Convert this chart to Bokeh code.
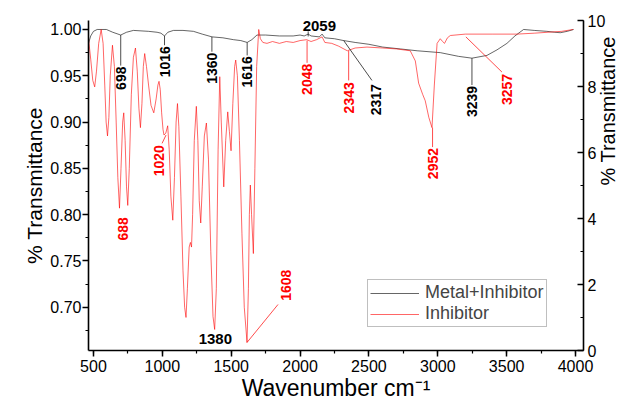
import math
from bokeh.plotting import figure
from bokeh.models import (Range1d, LinearAxis, SingleIntervalTicker, NumeralTickFormatter,
                          Legend, LegendItem, ColumnDataSource)
from bokeh.core.properties import value
from bokeh.embed import file_html
from bokeh.resources import INLINE

# ---------------- data ----------------
# Inhibitor spectrum (wavenumber, transmittance)
inh_wn = [464, 480, 495, 509, 522, 538, 556, 570, 582, 592, 602, 612, 622, 638, 652, 665, 677, 689,
          700, 712, 720, 730, 740, 749, 760, 775, 790, 805, 818, 830, 841, 852, 862, 872, 885, 900,
          918, 938, 955, 968, 976, 985, 995, 1005, 1012, 1025, 1039, 1050, 1062, 1076, 1088, 1100,
          1110, 1120, 1135, 1150, 1162, 1172, 1182, 1195, 1204, 1212, 1220, 1232, 1247, 1258, 1268,
          1279, 1290, 1305, 1320, 1335, 1352, 1368, 1380, 1392, 1405, 1417, 1428, 1446, 1460, 1475,
          1487, 1499, 1512, 1525, 1533, 1545, 1560, 1578, 1595, 1615, 1625, 1632, 1639, 1648, 1661,
          1672, 1685, 1700, 1712, 1730, 1760, 1800, 1850, 1900, 1950, 2000, 2048, 2080, 2120, 2160,
          2180, 2230, 2280, 2343, 2400, 2486, 2600, 2700, 2800, 2837, 2861, 2890, 2909, 2935, 2958,
          2975, 2995, 3018, 3035, 3049, 3070, 3091, 3200, 3400, 3575, 3700, 3800, 3900, 3983]
inh_t = [0.990, 0.968, 0.945, 0.938, 0.955, 0.985, 1.000, 0.985, 0.940, 0.900, 0.885, 0.905, 0.950,
         0.983, 0.960, 0.900, 0.840, 0.807, 0.850, 0.900, 0.910, 0.880, 0.830, 0.810, 0.850, 0.930,
         0.970, 0.980, 0.955, 0.915, 0.894, 0.920, 0.960, 0.974, 0.960, 0.940, 0.918, 0.910, 0.925,
         0.940, 0.944, 0.935, 0.910, 0.892, 0.886, 0.888, 0.896, 0.870, 0.820, 0.794, 0.840, 0.900,
         0.920, 0.895, 0.820, 0.740, 0.700, 0.689, 0.720, 0.765, 0.770, 0.765, 0.800, 0.880, 0.917,
         0.880, 0.815, 0.791, 0.830, 0.885, 0.899, 0.860, 0.760, 0.690, 0.676, 0.720, 0.870, 0.949,
         0.900, 0.830, 0.880, 0.911, 0.890, 0.869, 0.920, 0.960, 0.967, 0.950, 0.880, 0.780, 0.700,
         0.662, 0.720, 0.800, 0.832, 0.800, 0.758, 0.850, 0.960, 1.000, 0.990, 0.986, 0.985, 0.987,
         0.985, 0.987, 0.986, 0.988, 0.989, 0.987, 0.989, 0.992, 0.986, 0.985, 0.982, 0.977, 0.980,
         0.981, 0.980, 0.979, 0.977, 0.966, 0.942, 0.930, 0.923, 0.905, 0.894, 0.940, 0.985, 0.990,
         0.987, 0.985, 0.991, 0.9935, 0.995, 0.995, 0.995, 0.996, 0.997, 0.998, 1.000]

# Metal+Inhibitor spectrum
met_wn = [464, 480, 500, 527, 594, 640, 698, 740, 790, 900, 962, 990, 1016, 1040, 1081, 1150, 1226,
          1290, 1361, 1440, 1516, 1570, 1616, 1650, 1687, 1750, 1850, 1950, 2000, 2030, 2059, 2080,
          2140, 2160, 2180, 2250, 2317, 2400, 2500, 2600, 2728, 2850, 3018, 3150, 3248, 3357, 3430,
          3502, 3560, 3623, 3700, 3792, 3850, 3889, 3940, 3986]
met_t = [0.985, 0.993, 0.998, 1.000, 1.000, 0.997, 0.994, 0.997, 0.999, 0.998, 0.997, 0.996, 0.993,
         0.997, 0.999, 0.999, 0.998, 0.995, 0.992, 0.991, 0.989, 0.988, 0.986, 0.989, 0.994, 0.994,
         0.993, 0.993, 0.994, 0.993, 0.995, 0.993, 0.992, 0.995, 0.991, 0.990, 0.988, 0.986, 0.984,
         0.981, 0.979, 0.977, 0.975, 0.971, 0.969, 0.972, 0.978, 0.985, 0.993, 1.000, 0.999, 0.998,
         0.997, 0.9965, 0.998, 1.000]

# Peak annotations: rotated labels hanging below a leader line
ann_text = ["698", "1016", "1360", "1616", "3239", "2317", "2048", "2343", "2952", "3257", "1020"]
ann_color = ["black", "black", "black", "black", "black", "black", "red", "red", "red", "red", "red"]
ann_x0 = [698, 1016, 1360, 1616, 3248, 2317, 2051, 2353, 2962, 3204, 1027]
ann_y0 = [0.994, 0.993, 0.992, 0.986, 0.969, 0.988, 0.988, 0.977, 0.894, 0.992, 0.886]
ann_x1 = [698, 1016, 1360, 1616, 3248, 2522, 2051, 2353, 2962, 3466, 998]
ann_y1 = [0.961, 0.983, 0.976, 0.972, 0.940, 0.945, 0.964, 0.945, 0.873, 0.954, 0.877]
ann_lx = [698, 1016, 1360, 1616, 3248, 2555, 2051, 2353, 2962, 3502, 976]
ann_ly = [0.960, 0.982, 0.975, 0.971, 0.939, 0.941, 0.963, 0.943, 0.872, 0.952, 0.875]

# rotated labels sitting above their anchor (1608 with leader, 688 alone)
up_text = ["1608", "688"]
up_lx = [1901, 716]
up_ly = [0.707, 0.772]
lead1608_x = [1615, 1840]
lead1608_y = [0.662, 0.703]

# horizontal bold labels
hz_text = ["2059", "1380"]
hz_x = [2140, 1385]
hz_y = [1.0034, 0.666]
lead2059_x = [2059, 2059]
lead2059_y = [0.998, 0.9925]

series_names = ["Metal+Inhibitor", "Inhibitor"]
x_title = "Wavenumber cm\u207b\u00b9"
y_title = "% Transmittance"

FONT = "Liberation Sans"

p = figure(width=636, height=403, x_range=Range1d(464, 4058), y_range=Range1d(0.6533, 1.0097),
           output_backend="svg", toolbar_location=None,
           min_border_left=88, min_border_right=53, min_border_top=20, min_border_bottom=53)
p.extra_y_ranges = {"right": Range1d(0, 10)}
p.outline_line_color = None
p.grid.visible = False
p.background_fill_color = "white"
p.border_fill_color = "white"

r_met = p.line(met_wn, met_t, line_color="#000000", line_alpha=0.6, line_width=1)
r_inh = p.line(inh_wn, inh_t, line_color="#ff0000", line_alpha=0.6, line_width=1)

# leaders
for i in range(len(ann_text)):
    p.line([ann_x0[i], ann_x1[i]], [ann_y0[i], ann_y1[i]],
           line_color=("#000000" if ann_color[i] == "black" else "#ff0000"),
           line_alpha=0.7, line_width=1)
p.line(lead1608_x, lead1608_y, line_color="#ff0000", line_alpha=0.7, line_width=1)
p.line(lead2059_x, lead2059_y, line_color="#000000", line_alpha=0.7, line_width=1)

src = ColumnDataSource(dict(x=ann_lx, y=ann_ly, text=ann_text, color=ann_color))
p.text(x="x", y="y", text="text", source=src, angle=math.pi / 2, text_align="right",
       text_baseline="middle", text_color="color", text_font=value(FONT),
       text_font_style="bold", text_font_size="14px")
p.text(x=up_lx, y=up_ly, text=up_text, angle=math.pi / 2, text_align="left",
       text_baseline="middle", text_color="red", text_font=value(FONT),
       text_font_style="bold", text_font_size="14px")
p.text(x=hz_x, y=hz_y, text=hz_text, text_align="center", text_baseline="middle",
       text_color="black", text_font=value(FONT), text_font_style="bold", text_font_size="15px")

# axes styling
def style(ax):
    ax.axis_line_width = 1.6
    ax.major_tick_line_width = 1.5
    ax.minor_tick_line_width = 1.2
    ax.major_tick_out = 6
    ax.major_tick_in = 0
    ax.minor_tick_out = 3
    ax.minor_tick_in = 0
    ax.major_label_text_font = FONT
    ax.major_label_text_font_size = "16px"
    ax.major_label_text_color = "black"
    ax.axis_label_text_font = FONT
    ax.axis_label_text_font_style = "normal"
    ax.axis_label_text_color = "black"

xa = p.xaxis[0]
xa.ticker = SingleIntervalTicker(interval=500, num_minor_ticks=2)
xa.axis_label = x_title
style(xa)
xa.axis_label_text_font_size = "23px"
xa.major_label_standoff = 3
xa.axis_label_standoff = 0

ya = p.yaxis[0]
ya.ticker = SingleIntervalTicker(interval=0.05, num_minor_ticks=2)
ya.formatter = NumeralTickFormatter(format="0.00")
ya.axis_label = y_title
style(ya)
ya.axis_label_text_font_size = "21px"
ya.major_label_standoff = 1
ya.axis_label_standoff = 1

yr = LinearAxis(y_range_name="right", ticker=SingleIntervalTicker(interval=2, num_minor_ticks=2),
                axis_label=y_title)
style(yr)
yr.major_tick_out = 0
yr.major_tick_in = 6
yr.minor_tick_out = 0
yr.minor_tick_in = 3
yr.axis_label_text_font_size = "20px"
yr.major_label_standoff = 4
yr.axis_label_standoff = 0
if "axis_label_orientation" in yr.properties():
    yr.axis_label_orientation = math.pi / 2
p.add_layout(yr, "right")

legend = Legend(items=[LegendItem(label=series_names[0], renderers=[r_met]),
                       LegendItem(label=series_names[1], renderers=[r_inh])],
                location=(279, 23))
legend.label_text_font = FONT
legend.label_text_font_size = "18px"
legend.glyph_width = 49
legend.glyph_height = 16
legend.label_height = 16
legend.spacing = 0
legend.padding = 2
legend.margin = 0
legend.label_standoff = 6
legend.border_line_color = "#808080"
legend.border_line_width = 1
legend.background_fill_alpha = 1
p.add_layout(legend, "center")

open("out.html", "w").write(file_html(p, INLINE))
